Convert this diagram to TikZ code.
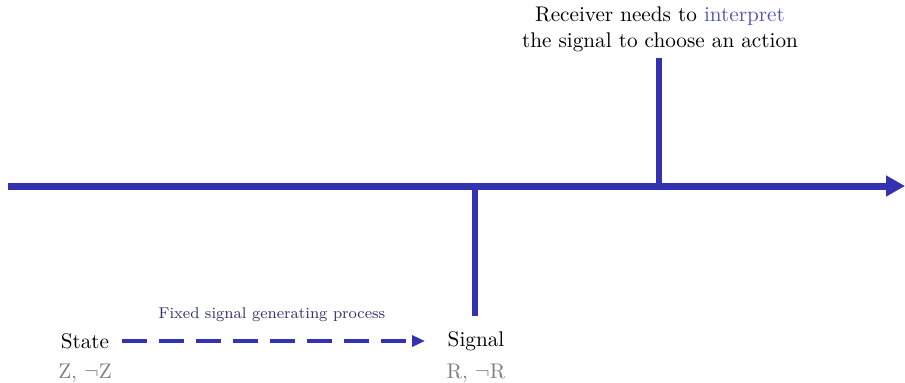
\documentclass[tikz,border=0pt]{standalone}
\usetikzlibrary{arrows.meta}
\definecolor{lineblue}{HTML}{3333B2}
\definecolor{interp}{HTML}{5555B5}
\definecolor{labnavy}{HTML}{33336B}
\begin{document}
\begin{tikzpicture}[x=0.5pt,y=-0.5pt,
  axis/.style={lineblue,line width=3.5pt},
  tick/.style={lineblue,line width=3pt},
  lab/.style={font=\fontsize{10.6}{13}\selectfont,inner sep=0pt},
  sub/.style={font=\fontsize{10.6}{13}\selectfont,text=gray,inner sep=0pt},
  dasharrow/.style={lineblue,line width=2pt,dash pattern=on 12.5pt off 6pt,-{Triangle[length=6.5pt,width=5.5pt]}}]
\useasboundingbox (0,0) rectangle (905,382);
\coordinate (L) at (8,186);
\coordinate (R) at (905,186);
\coordinate (S1) at (475,186);
\coordinate (S2) at (475,316);
\coordinate (T1) at (659,186);
\coordinate (T2) at (659,58);
\draw[axis,-{Triangle[length=9.5pt,width=10pt]}] (L) -- (R);
\draw[tick] (S1) -- (S2);
\draw[tick] (T1) -- (T2);
\node[lab,align=center] (rec) at (660,29) {Receiver needs to \textcolor{interp}{interpret}\\ the signal to choose an action};
\node[lab] (state) at (85,341) {State};
\node[sub] (z) at (85,373) {Z, $\neg$Z};
\node[lab] (signal) at (476,341) {Signal};
\node[sub] (r) at (476,373) {R, $\neg$R};
\draw[dasharrow] (state.east) ++(12,0) coordinate (a0) -- (425,341) coordinate (a1);
\node[font=\fontsize{7.8}{9}\selectfont,text=labnavy] (proc) at (272,315) {Fixed signal generating process};
\end{tikzpicture}
\end{document}
